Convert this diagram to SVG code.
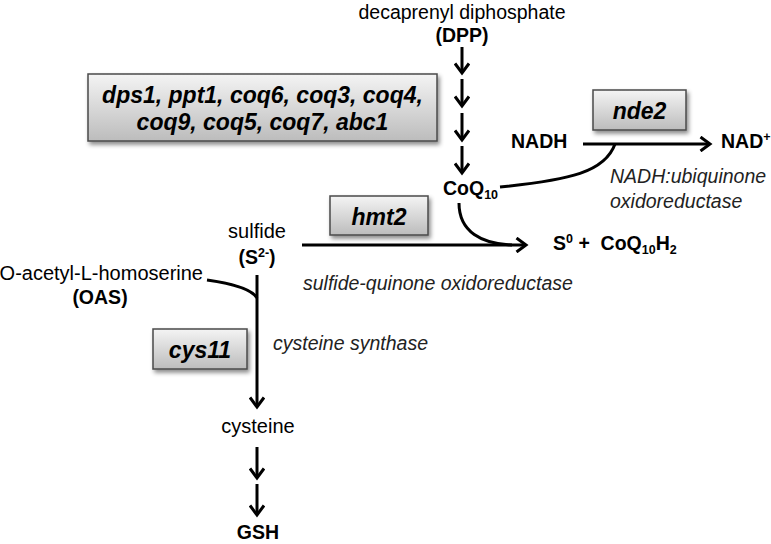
<svg xmlns="http://www.w3.org/2000/svg" width="771" height="544" viewBox="0 0 771 544">
<defs>
<linearGradient id="g" x1="0" y1="0" x2="0" y2="1">
<stop offset="0" stop-color="#f4f4f4"/>
<stop offset="1" stop-color="#bcbcbc"/>
</linearGradient>
<filter id="sh" x="-20%" y="-30%" width="140%" height="170%">
<feDropShadow dx="2" dy="3" stdDeviation="2" flood-color="#000" flood-opacity="0.45"/>
</filter>
<marker id="a" viewBox="0 0 14 16" refX="11" refY="8" markerWidth="14" markerHeight="16" markerUnits="userSpaceOnUse" orient="auto">
<path d="M1.5,1 L11,8 L1.5,15" fill="none" stroke="#000" stroke-width="3" stroke-linejoin="miter"/>
</marker>
<style>
text{font-family:"Liberation Sans",Arial,sans-serif;fill:#000;font-size:20px}
.b{font-weight:bold;font-size:19.5px}
.i{font-style:italic;fill:#222;font-size:19.5px}
.bx{fill:url(#g);stroke:#4a4a4a;stroke-width:1.5;filter:url(#sh)}
.bt{font-weight:bold;font-style:italic;font-size:23px}
.c{stroke:#000;stroke-width:3;fill:none}
.m{marker-end:url(#a)}
.sub{font-size:12.5px}
</style>
</defs>
<g id="connectors">
<line class="c m" x1="462" y1="47" x2="462" y2="73"/>
<line class="c m" x1="462" y1="79" x2="462" y2="106"/>
<line class="c m" x1="462" y1="113" x2="462" y2="140"/>
<line class="c m" x1="462" y1="146" x2="462" y2="173"/>
<line class="c m" x1="583" y1="144" x2="710" y2="144"/>
<path class="c" d="M500,187 C570,180 605,172 615,144"/>
<line class="c m" x1="302" y1="245" x2="526" y2="245"/>
<path class="c" d="M459,203 C459,232 482,244 512,245"/>
<path class="c" d="M207,280 Q250,286 257,298"/>
<line class="c m" x1="257" y1="275" x2="257" y2="407"/>
<line class="c m" x1="257" y1="447" x2="257" y2="478"/>
<line class="c m" x1="257" y1="484" x2="257" y2="515"/>
</g>
<g id="dpp">
<text x="462" y="19" text-anchor="middle" style="font-size:19.5px">decaprenyl diphosphate</text>
<text class="b" x="462" y="42" text-anchor="middle">(DPP)</text>
</g>
<g id="genes-coq">
<rect class="bx" x="88" y="74" width="349" height="67"/>
<text class="bt" x="262.5" y="103" text-anchor="middle">dps1, ppt1, coq6, coq3, coq4,</text>
<text class="bt" x="262.5" y="130" text-anchor="middle">coq9, coq5, coq7, abc1</text>
</g>
<g id="coq10">
<text class="b" x="443" y="195">CoQ<tspan class="sub" dy="4">10</tspan></text>
</g>
<g id="nde2">
<rect class="bx" x="593" y="90" width="93" height="40"/>
<text class="bt" x="639.5" y="119" text-anchor="middle">nde2</text>
</g>
<g id="nadh">
<text class="b" x="511" y="148">NADH</text>
</g>
<g id="nadplus">
<text class="b" x="721" y="148">NAD<tspan class="sub" dy="-7">+</tspan></text>
</g>
<g id="nde2-label">
<text class="i" x="610" y="183">NADH:ubiquinone</text>
<text class="i" x="610" y="208">oxidoreductase</text>
</g>
<g id="hmt2">
<rect class="bx" x="330" y="196" width="98" height="39"/>
<text class="bt" x="379" y="225" text-anchor="middle">hmt2</text>
</g>
<g id="sulfide">
<text x="257" y="238" text-anchor="middle">sulfide</text>
<text class="b" x="257" y="264" text-anchor="middle">(S<tspan class="sub" dy="-7">2-</tspan><tspan dy="7">)</tspan></text>
</g>
<g id="products">
<text class="b" x="553" y="250" xml:space="preserve">S<tspan class="sub" dy="-7">0</tspan><tspan dy="7"> +  CoQ</tspan><tspan class="sub" dy="4">10</tspan><tspan dy="-4">H</tspan><tspan class="sub" dy="4">2</tspan></text>
</g>
<g id="hmt2-label">
<text class="i" x="303" y="290">sulfide-quinone oxidoreductase</text>
</g>
<g id="oas">
<text x="203" y="280" text-anchor="end">O-acetyl-L-homoserine</text>
<text class="b" x="100" y="304" text-anchor="middle">(OAS)</text>
</g>
<g id="cys11">
<rect class="bx" x="153" y="329" width="94" height="40"/>
<text class="bt" x="200" y="358" text-anchor="middle">cys11</text>
</g>
<g id="cys11-label">
<text class="i" x="273" y="350">cysteine synthase</text>
</g>
<g id="cysteine">
<text x="258" y="433" text-anchor="middle">cysteine</text>
</g>
<g id="gsh">
<text class="b" x="258" y="539" text-anchor="middle">GSH</text>
</g>
</svg>
